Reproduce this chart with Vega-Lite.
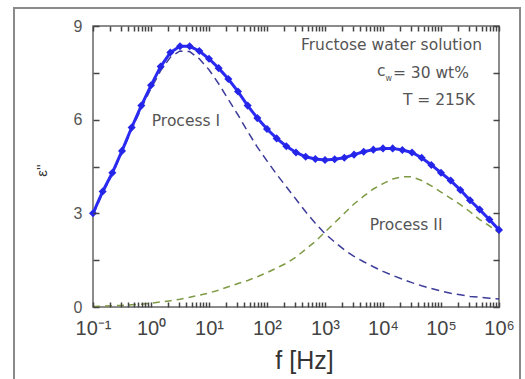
{
  "$schema": "https://vega.github.io/schema/vega-lite/v6.json",
  "width": 406,
  "height": 281,
  "autosize": "none",
  "padding": {"left": 93, "top": 26, "right": 26, "bottom": 72},
  "background": "white",
  "config": {
    "font": "Liberation Sans",
    "view": {"stroke": "#666", "strokeWidth": 1.5},
    "axis": {"grid": false, "domain": false, "ticks": true, "tickColor": "#444", "tickWidth": 1.5, "tickOpacity": 1, "labelColor": "#444", "titleColor": "#333", "labelFont": "Liberation Sans", "titleFont": "Liberation Sans", "titleFontWeight": "normal"}
  },
  "datasets": {
    "curves": [
      {"f": 0.1, "total": 3.0, "p1": 2.95, "p2": 0.02},
      {"f": 0.14678, "total": 3.7, "p1": 3.65, "p2": 0.03},
      {"f": 0.21544, "total": 4.3, "p1": 4.25, "p2": 0.04},
      {"f": 0.31623, "total": 5.0, "p1": 4.95, "p2": 0.05},
      {"f": 0.46416, "total": 5.75, "p1": 5.68, "p2": 0.07},
      {"f": 0.68129, "total": 6.45, "p1": 6.37, "p2": 0.09},
      {"f": 1, "total": 7.1, "p1": 7.0, "p2": 0.12},
      {"f": 1.4678, "total": 7.7, "p1": 7.57, "p2": 0.16},
      {"f": 2.1544, "total": 8.15, "p1": 8.0, "p2": 0.2},
      {"f": 3.1623, "total": 8.35, "p1": 8.2, "p2": 0.25},
      {"f": 4.6416, "total": 8.35, "p1": 8.18, "p2": 0.31},
      {"f": 6.8129, "total": 8.2, "p1": 7.95, "p2": 0.38},
      {"f": 10, "total": 7.95, "p1": 7.6, "p2": 0.45},
      {"f": 14.678, "total": 7.65, "p1": 7.15, "p2": 0.54},
      {"f": 21.544, "total": 7.3, "p1": 6.65, "p2": 0.65},
      {"f": 31.623, "total": 6.9, "p1": 6.15, "p2": 0.75},
      {"f": 46.416, "total": 6.45, "p1": 5.62, "p2": 0.85},
      {"f": 68.129, "total": 6.05, "p1": 5.12, "p2": 0.97},
      {"f": 100, "total": 5.7, "p1": 4.68, "p2": 1.1},
      {"f": 146.78, "total": 5.4, "p1": 4.25, "p2": 1.25},
      {"f": 215.44, "total": 5.15, "p1": 3.85, "p2": 1.4},
      {"f": 316.23, "total": 4.95, "p1": 3.45, "p2": 1.6},
      {"f": 464.16, "total": 4.81, "p1": 3.05, "p2": 1.85},
      {"f": 681.29, "total": 4.74, "p1": 2.68, "p2": 2.1},
      {"f": 1000, "total": 4.71, "p1": 2.35, "p2": 2.4},
      {"f": 1467.8, "total": 4.73, "p1": 2.08, "p2": 2.7},
      {"f": 2154.4, "total": 4.78, "p1": 1.83, "p2": 3.0},
      {"f": 3162.3, "total": 4.88, "p1": 1.62, "p2": 3.3},
      {"f": 4641.6, "total": 4.97, "p1": 1.45, "p2": 3.55},
      {"f": 6812.9, "total": 5.04, "p1": 1.29, "p2": 3.78},
      {"f": 10000, "total": 5.08, "p1": 1.14, "p2": 3.95},
      {"f": 14678, "total": 5.08, "p1": 1.01, "p2": 4.1},
      {"f": 21544, "total": 5.03, "p1": 0.89, "p2": 4.17},
      {"f": 31623, "total": 4.95, "p1": 0.78, "p2": 4.17},
      {"f": 46416, "total": 4.78, "p1": 0.68, "p2": 4.05},
      {"f": 68129, "total": 4.55, "p1": 0.59, "p2": 3.88},
      {"f": 100000, "total": 4.3, "p1": 0.51, "p2": 3.68},
      {"f": 146780, "total": 4.05, "p1": 0.44, "p2": 3.48},
      {"f": 215440, "total": 3.75, "p1": 0.39, "p2": 3.28},
      {"f": 316230, "total": 3.42, "p1": 0.34, "p2": 3.05},
      {"f": 464160, "total": 3.12, "p1": 0.31, "p2": 2.8},
      {"f": 681290, "total": 2.8, "p1": 0.28, "p2": 2.6},
      {"f": 1000000, "total": 2.47, "p1": 0.26, "p2": 2.37}
    ],
    "rightNotes": [
      {"f": 509000, "v": 8.4, "label": "Fructose water solution"},
      {"f": 385000, "v": 6.63, "label": "T = 215K"}
    ],
    "processNotes": [
      {"f": 4.0, "v": 5.95, "label": "Process I"},
      {"f": 25000, "v": 2.62, "label": "Process II"}
    ]
  },
  "resolve": {"axis": {"x": "independent", "y": "independent"}},
  "layer": [
    {
      "data": {"values": [{"a": 1}]},
      "mark": {"type": "rect", "fill": null, "stroke": "#8a8a8a", "strokeWidth": 2, "clip": false},
      "encoding": {
        "x": {"datum": 0.004345, "type": "quantitative", "scale": {"type": "log", "domain": [0.1, 1000000], "nice": false}, "axis": null},
        "x2": {"datum": 2301000},
        "y": {"datum": 9.58, "type": "quantitative", "scale": {"domain": [0, 9], "nice": false}, "axis": null},
        "y2": {"datum": -2.6}
      }
    },
    {
      "data": {"name": "curves"},
      "mark": {"type": "line", "color": "#7f9a45", "strokeDash": [7, 5], "strokeWidth": 1.5},
      "encoding": {
        "x": {"field": "f", "type": "quantitative",
          "scale": {"type": "log", "domain": [0.1, 1000000], "nice": false},
          "axis": {"orient": "bottom", "offset": -5, "tickSize": 5, "zindex": 2,
            "values": [0.1, 0.2, 0.3, 0.4, 0.5, 0.6, 0.7, 0.8, 0.9, 1, 2, 3, 4, 5, 6, 7, 8, 9, 10, 20, 30, 40, 50, 60, 70, 80, 90, 100, 200, 300, 400, 500, 600, 700, 800, 900, 1000, 2000, 3000, 4000, 5000, 6000, 7000, 8000, 9000, 10000, 20000, 30000, 40000, 50000, 60000, 70000, 80000, 90000, 100000, 200000, 300000, 400000, 500000, 600000, 700000, 800000, 900000, 1000000],
            "labelExpr": "abs(log(datum.value)/LN10 - round(log(datum.value)/LN10)) < 0.001 ? ['10⁻¹','10⁰','10¹','10²','10³','10⁴','10⁵','10⁶'][round(log(datum.value)/LN10)+1] : ''",
            "labelFontSize": 20, "labelPadding": 11, "labelFlush": false, "labelOverlap": false,
            "title": "f [Hz]", "titleFontSize": 25, "titlePadding": 10, "titleX": 211}},
        "y": {"field": "p2", "type": "quantitative",
          "scale": {"domain": [0, 9], "nice": false},
          "axis": {"orient": "left", "offset": -6, "tickSize": 6, "zindex": 2, "values": [0, 1.5, 3, 4.5, 6, 7.5, 9],
            "labelExpr": "datum.value % 3 == 0 ? datum.label : ''",
            "labelFontSize": 16, "labelPadding": 11, "labelColor": "#555",
            "title": "ε''", "titleFontSize": 15, "titleAngle": -90, "titleX": -50, "titleY": 144}}
      }
    },
    {
      "data": {"name": "curves"},
      "mark": {"type": "line", "color": "#3d3d99", "strokeDash": [8, 5], "strokeWidth": 1.5},
      "encoding": {
        "x": {"field": "f", "type": "quantitative",
          "scale": {"type": "log", "domain": [0.1, 1000000], "nice": false},
          "axis": {"orient": "top", "offset": -5, "tickSize": 5, "zindex": 2, "values": [0.1, 0.2, 0.3, 0.4, 0.5, 0.6, 0.7, 0.8, 0.9, 1, 2, 3, 4, 5, 6, 7, 8, 9, 10, 20, 30, 40, 50, 60, 70, 80, 90, 100, 200, 300, 400, 500, 600, 700, 800, 900, 1000, 2000, 3000, 4000, 5000, 6000, 7000, 8000, 9000, 10000, 20000, 30000, 40000, 50000, 60000, 70000, 80000, 90000, 100000, 200000, 300000, 400000, 500000, 600000, 700000, 800000, 900000, 1000000],
            "labels": false, "title": null}},
        "y": {"field": "p1", "type": "quantitative",
          "scale": {"domain": [0, 9], "nice": false},
          "axis": {"orient": "right", "offset": -6, "tickSize": 6, "zindex": 2, "values": [0, 1.5, 3, 4.5, 6, 7.5, 9], "labels": false, "title": null}}
      }
    },
    {
      "data": {"name": "curves"},
      "mark": {"type": "line", "color": "#2a2af2", "strokeWidth": 3},
      "encoding": {
        "x": {"field": "f", "type": "quantitative", "scale": {"type": "log", "domain": [0.1, 1000000], "nice": false}, "axis": null},
        "y": {"field": "total", "type": "quantitative", "scale": {"domain": [0, 9], "nice": false}, "axis": null}
      }
    },
    {
      "data": {"name": "curves"},
      "mark": {"type": "point", "shape": "diamond", "filled": true, "color": "#2525e8", "size": 65, "opacity": 1},
      "encoding": {
        "x": {"field": "f", "type": "quantitative", "scale": {"type": "log", "domain": [0.1, 1000000], "nice": false}, "axis": null},
        "y": {"field": "total", "type": "quantitative", "scale": {"domain": [0, 9], "nice": false}, "axis": null}
      }
    },
    {
      "data": {"name": "rightNotes"},
      "mark": {"type": "text", "font": "DejaVu Sans", "fontSize": 15.5, "color": "#555", "baseline": "middle", "align": "right"},
      "encoding": {
        "x": {"field": "f", "type": "quantitative", "scale": {"type": "log", "domain": [0.1, 1000000], "nice": false}, "axis": null},
        "y": {"field": "v", "type": "quantitative", "scale": {"domain": [0, 9], "nice": false}, "axis": null},
        "text": {"field": "label"}
      }
    },
    {
      "data": {"values": [{"f": 14800, "v": 7.5, "label": "\u00a0= 30 wt%"}]},
      "mark": {"type": "text", "font": "DejaVu Sans", "fontSize": 15.5, "color": "#555", "baseline": "middle", "align": "left"},
      "encoding": {
        "x": {"field": "f", "type": "quantitative", "scale": {"type": "log", "domain": [0.1, 1000000], "nice": false}, "axis": null},
        "y": {"field": "v", "type": "quantitative", "scale": {"domain": [0, 9], "nice": false}, "axis": null},
        "text": {"field": "label"}
      }
    },
    {
      "data": {"name": "processNotes"},
      "mark": {"type": "text", "font": "DejaVu Sans", "fontSize": 15.5, "color": "#555", "baseline": "middle", "align": "center"},
      "encoding": {
        "x": {"field": "f", "type": "quantitative", "scale": {"type": "log", "domain": [0.1, 1000000], "nice": false}, "axis": null},
        "y": {"field": "v", "type": "quantitative", "scale": {"domain": [0, 9], "nice": false}, "axis": null},
        "text": {"field": "label"}
      }
    },
    {
      "data": {"values": [{"f": 9330, "v": 7.55, "label": "c"}]},
      "mark": {"type": "text", "font": "DejaVu Sans", "fontSize": 15.5, "color": "#555", "baseline": "middle", "align": "center"},
      "encoding": {
        "x": {"field": "f", "type": "quantitative", "scale": {"type": "log", "domain": [0.1, 1000000], "nice": false}, "axis": null},
        "y": {"field": "v", "type": "quantitative", "scale": {"domain": [0, 9], "nice": false}, "axis": null},
        "text": {"field": "label"}
      }
    },
    {
      "data": {"values": [{"f": 12600, "v": 7.3, "label": "w"}]},
      "mark": {"type": "text", "font": "DejaVu Sans", "fontSize": 8, "color": "#555", "baseline": "middle", "align": "center"},
      "encoding": {
        "x": {"field": "f", "type": "quantitative", "scale": {"type": "log", "domain": [0.1, 1000000], "nice": false}, "axis": null},
        "y": {"field": "v", "type": "quantitative", "scale": {"domain": [0, 9], "nice": false}, "axis": null},
        "text": {"field": "label"}
      }
    }
  ]
}
